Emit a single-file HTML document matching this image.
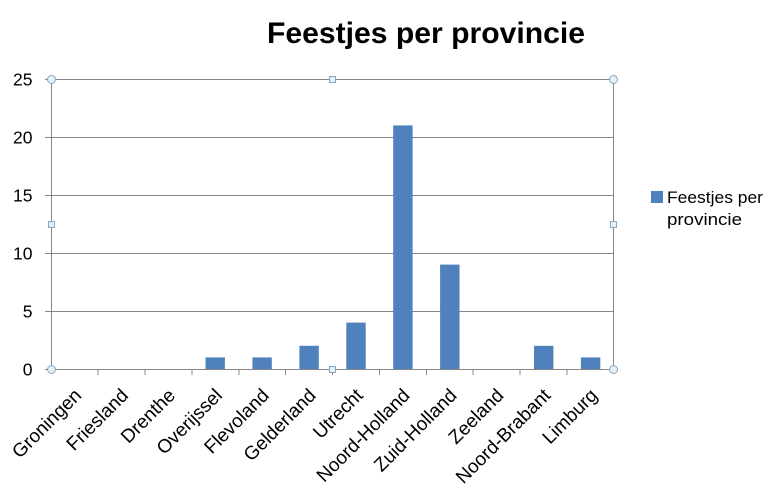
<!DOCTYPE html>
<html><head><meta charset="utf-8"><style>
html,body{margin:0;padding:0;background:#fff;}
svg{display:block;font-family:"Liberation Sans",Arial,sans-serif;}
</style></head><body>
<svg width="780" height="490" viewBox="0 0 780 490" xmlns="http://www.w3.org/2000/svg">
<rect width="780" height="490" fill="#fff"/>
<text x="267" y="43" font-size="30" font-weight="bold" textLength="318" lengthAdjust="spacingAndGlyphs" fill="#000">Feestjes per provincie</text>
<g stroke="#868686" stroke-width="1">
<line x1="45" y1="79.5" x2="614" y2="79.5"/>
<line x1="45" y1="137.5" x2="614" y2="137.5"/>
<line x1="45" y1="195.5" x2="614" y2="195.5"/>
<line x1="45" y1="253.5" x2="614" y2="253.5"/>
<line x1="45" y1="311.5" x2="614" y2="311.5"/>
<line x1="45" y1="369.5" x2="614" y2="369.5"/>
<line x1="51.5" y1="79" x2="51.5" y2="370"/>
<line x1="613.5" y1="79" x2="613.5" y2="370"/>
<line x1="98" y1="369" x2="98" y2="375"/>
<line x1="145" y1="369" x2="145" y2="375"/>
<line x1="192" y1="369" x2="192" y2="375"/>
<line x1="239" y1="369" x2="239" y2="375"/>
<line x1="285.5" y1="369" x2="285.5" y2="375"/>
<line x1="332.5" y1="369" x2="332.5" y2="375"/>
<line x1="379.5" y1="369" x2="379.5" y2="375"/>
<line x1="426.5" y1="369" x2="426.5" y2="375"/>
<line x1="473" y1="369" x2="473" y2="375"/>
<line x1="520" y1="369" x2="520" y2="375"/>
<line x1="567" y1="369" x2="567" y2="375"/>
</g>
<g fill="#4f81bd">
<rect x="205.5" y="357.4" width="19.4" height="11.6"/>
<rect x="252.4" y="357.4" width="19.4" height="11.6"/>
<rect x="299.4" y="345.8" width="19.4" height="23.2"/>
<rect x="346.3" y="322.6" width="19.4" height="46.4"/>
<rect x="393.2" y="125.4" width="19.4" height="243.6"/>
<rect x="440.1" y="264.6" width="19.4" height="104.4"/>
<rect x="534" y="345.8" width="19.4" height="23.2"/>
<rect x="580.9" y="357.4" width="19.4" height="11.6"/>
</g>
<g font-size="17.5" fill="#000" text-anchor="end">
<text x="32.5" y="85.5">25</text>
<text x="32.5" y="143.5">20</text>
<text x="32.5" y="201.5">15</text>
<text x="32.5" y="259.5">10</text>
<text x="32.5" y="317.5">5</text>
<text x="32.5" y="375.5">0</text>
</g>
<g font-size="19" fill="#000" text-anchor="end">
<text transform="translate(82.5,396.5) rotate(-45)">Groningen</text>
<text transform="translate(129.4,396.5) rotate(-45)">Friesland</text>
<text transform="translate(176.3,396.5) rotate(-45)">Drenthe</text>
<text transform="translate(223.2,396.5) rotate(-45)">Overijssel</text>
<text transform="translate(270.1,396.5) rotate(-45)">Flevoland</text>
<text transform="translate(317,396.5) rotate(-45)">Gelderland</text>
<text transform="translate(364,396.5) rotate(-45)">Utrecht</text>
<text transform="translate(410.9,396.5) rotate(-45)">Noord-Holland</text>
<text transform="translate(457.8,396.5) rotate(-45)">Zuid-Holland</text>
<text transform="translate(504.7,396.5) rotate(-45)">Zeeland</text>
<text transform="translate(551.6,396.5) rotate(-45)">Noord-Brabant</text>
<text transform="translate(598.5,396.5) rotate(-45)">Limburg</text>
</g>
<rect x="651" y="191" width="12" height="12" fill="#4f81bd"/>
<text x="667" y="203" font-size="17" textLength="96" lengthAdjust="spacingAndGlyphs" fill="#000">Feestjes per</text>
<text x="667" y="225" font-size="17" textLength="75" lengthAdjust="spacingAndGlyphs" fill="#000">provincie</text>
<g fill="#e3f0f6" stroke="#8aa6bd" stroke-width="1">
<circle cx="51.5" cy="79.5" r="4"/>
<circle cx="613.5" cy="79.5" r="4"/>
<circle cx="51.5" cy="369.5" r="4"/>
<circle cx="613.5" cy="369.5" r="4"/>
<rect x="329.5" y="76.5" width="6" height="6"/>
<rect x="329.5" y="366.5" width="6" height="6"/>
<rect x="48.5" y="221.5" width="6" height="6"/>
<rect x="610.5" y="221.5" width="6" height="6"/>
</g>
</svg>
</body></html>
